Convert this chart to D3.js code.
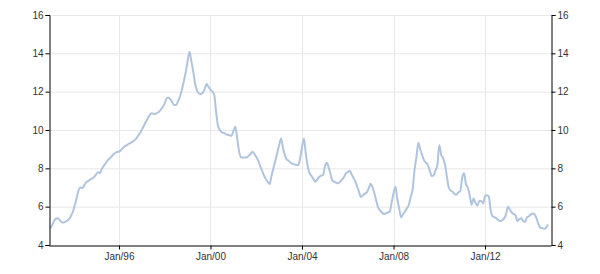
<!DOCTYPE html>
<html>
<head>
<meta charset="utf-8">
<script src="https://cdn.jsdelivr.net/npm/d3@7"></script>
<style>
  body { margin: 0; background: #fff; }
  svg text { font-family: "Liberation Sans", Arial, sans-serif; font-size: 10px; fill: #333; }
</style>
</head>
<body>
<svg width="600" height="274"></svg>
<script>
// monthly values, Jan 1993 .. Oct 2014
let startYear = 1993
let values = [
    4.88, 5.05, 5.25, 5.38, 5.4, 5.3, 5.18, 5.17, 5.22, 5.28, 5.38, 5.55,
    5.8, 6.15, 6.52, 6.9, 7.0, 6.98, 7.15, 7.3, 7.35, 7.42, 7.48, 7.55,
    7.68, 7.8, 7.75, 7.95, 8.12, 8.25, 8.4, 8.5, 8.6, 8.72, 8.8, 8.85,
    8.87, 8.95, 9.05, 9.15, 9.2, 9.27, 9.32, 9.38, 9.45, 9.55, 9.7, 9.83,
    10.02, 10.22, 10.4, 10.58, 10.75, 10.87, 10.85, 10.83, 10.9, 10.95, 11.08, 11.2,
    11.4, 11.65, 11.7, 11.6, 11.45, 11.3, 11.3, 11.5, 11.75, 12.1, 12.55, 13.0,
    13.6, 14.08, 13.6, 13.05, 12.4, 12.05, 11.9, 11.88, 11.95, 12.15, 12.4, 12.25,
    12.1, 12.0, 11.82, 10.9, 10.2, 10.0, 9.88, 9.85, 9.79, 9.75, 9.72, 9.7,
    9.95, 10.17, 9.6, 8.9, 8.57, 8.57, 8.57, 8.57, 8.65, 8.75, 8.87, 8.75,
    8.61, 8.4, 8.15, 7.9, 7.65, 7.45, 7.3, 7.18, 7.6, 8.0, 8.4, 8.8,
    9.2, 9.56, 9.1, 8.7, 8.47, 8.4, 8.3, 8.23, 8.2, 8.18, 8.17, 8.5,
    9.1, 9.56, 8.8, 8.1, 7.75, 7.6, 7.45, 7.3, 7.42, 7.55, 7.62, 7.65,
    8.1, 8.29, 8.05, 7.7, 7.35, 7.3, 7.25, 7.22, 7.3, 7.42, 7.55, 7.74,
    7.8, 7.88, 7.7, 7.5, 7.3, 7.05, 6.75, 6.5, 6.6, 6.68, 6.75, 6.95,
    7.2, 7.0, 6.7, 6.3, 5.95, 5.8, 5.7, 5.62, 5.65, 5.7, 5.74, 6.2,
    6.7, 7.04, 6.4, 5.9, 5.44, 5.6, 5.75, 5.9, 6.1, 6.5, 6.9, 7.91,
    8.6, 9.34, 9.0, 8.7, 8.43, 8.3, 8.17, 7.9, 7.6, 7.62, 7.9, 8.17,
    9.22, 8.7, 8.55, 8.2, 7.6, 7.0, 6.85, 6.78, 6.65, 6.62, 6.75, 6.8,
    7.5, 7.74, 7.2, 7.0, 6.6, 6.09, 6.43, 6.2, 6.05, 6.3, 6.3, 6.17,
    6.55, 6.6, 6.52, 5.8, 5.5, 5.45, 5.39, 5.3, 5.25, 5.3, 5.39, 5.6,
    6.0, 5.85, 5.7, 5.62, 5.55, 5.25, 5.35, 5.39, 5.25, 5.2, 5.45, 5.5,
    5.6, 5.65, 5.6, 5.4, 5.1, 4.9, 4.88, 4.85, 4.9, 5.07
]
let yTicks = [4, 6, 8, 10, 12, 14, 16]
let xTickYears = [1996, 2000, 2004, 2008, 2012]

let data = values.map((v, i) => ({date: new Date(startYear, i, 1), value: v}))

let svg = d3.select('svg')
let plotLeft = 49, plotRight = 551, plotTop = 15, plotBottom = 245

let x = d3.scaleTime()
    .domain([new Date(1992, 11, 10), new Date(2014, 10, 19)])
    .range([plotLeft, plotRight])
let y = d3.scaleLinear().domain([4, 16]).range([plotBottom, plotTop])

let xTicks = xTickYears.map(yr => new Date(yr, 0, 1))

// grid
svg.append('g').selectAll('line')
    .data(yTicks.slice(1))
    .enter().append('line')
    .attr('x1', plotLeft).attr('x2', plotRight)
    .attr('y1', d => y(d) + 0.5).attr('y2', d => y(d) + 0.5)
    .attr('stroke', '#e8e8e8')
svg.append('g').selectAll('line')
    .data(xTicks)
    .enter().append('line')
    .attr('x1', d => Math.round(x(d)) + 0.5).attr('x2', d => Math.round(x(d)) + 0.5)
    .attr('y1', plotTop).attr('y2', plotBottom)
    .attr('stroke', '#e8e8e8')

// line
let line = d3.line()
    .x(d => x(d.date))
    .y(d => y(d.value))
    .curve(d3.curveMonotoneX)

svg.append('path')
    .datum(data)
    .attr('fill', 'none')
    .attr('stroke', '#b0c4de')
    .attr('stroke-width', 2)
    .attr('d', line)

// axes
let leftAxis = d3.axisLeft(y).tickValues(yTicks).tickSize(4).tickPadding(2)
let rightAxis = d3.axisRight(y).tickValues(yTicks).tickSize(4).tickPadding(2)
let bottomAxis = d3.axisBottom(x).tickValues(xTicks).tickSize(4).tickPadding(3)
    .tickFormat(d => 'Jan/' + d3.timeFormat('%y')(d))

function styleAxis(g) {
    g.select('.domain').attr('stroke', '#000')
    g.selectAll('.tick line').attr('stroke', '#000')
    g.selectAll('text').attr('font-family', null).attr('font-size', null).attr('fill', '#333')
}

svg.append('g').attr('transform', `translate(${plotLeft + 0.5},0)`).call(leftAxis).call(styleAxis)
svg.append('g').attr('transform', `translate(${plotRight + 0.5},0)`).call(rightAxis).call(styleAxis)
svg.append('g').attr('transform', `translate(0,${plotBottom + 0.5})`).call(bottomAxis.tickSizeOuter(0)).call(styleAxis)
</script>
</body>
</html>
